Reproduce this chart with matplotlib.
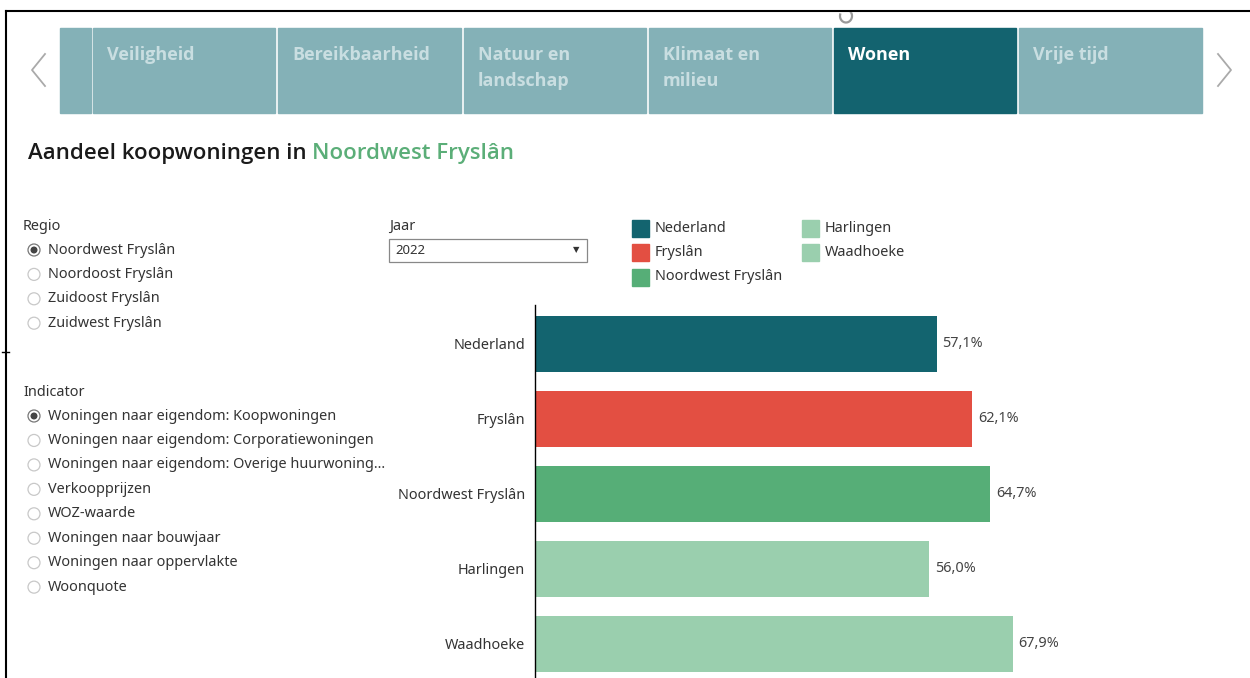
import matplotlib.pyplot as plt
from matplotlib.patches import Rectangle, Circle, Arc

plt.rcParams['font.family'] = ['Noto Sans', 'DejaVu Sans']

# Data
categories = ['Nederland', 'Fryslân', 'Noordwest Fryslân', 'Harlingen', 'Waadhoeke']
values = [57.1, 62.1, 64.7, 56.0, 67.9]
bar_colors = ['#13646F', '#E34F42', '#56AE77', '#9ACFAE', '#9ACFAE']

tabs = ['', 'Veiligheid', 'Bereikbaarheid', 'Natuur en\nlandschap',
        'Klimaat en\nmilieu', 'Wonen', 'Vrije tijd']
active_tab = 'Wonen'
regios = ['Noordwest Fryslân', 'Noordoost Fryslân', 'Zuidoost Fryslân', 'Zuidwest Fryslân']
indicators = ['Woningen naar eigendom: Koopwoningen',
              'Woningen naar eigendom: Corporatiewoningen',
              'Woningen naar eigendom: Overige huurwoning...',
              'Verkoopprijzen', 'WOZ-waarde', 'Woningen naar bouwjaar',
              'Woningen naar oppervlakte', 'Woonquote']
jaar = '2022'

W, H = 1250, 678
fig = plt.figure(figsize=(W / 100, H / 100), dpi=100)

# background overlay in pixel coordinates
bg = fig.add_axes([0, 0, 1, 1])
bg.set_xlim(0, W)
bg.set_ylim(H, 0)
bg.axis('off')

# frame (with a clipped refresh icon peeking below the top line)
bg.add_patch(Arc((846, 16), 12, 13, theta1=-70, theta2=205, color='#999999', lw=1.6))
bg.add_patch(Rectangle((800, 0), 100, 11, color='white', zorder=3))
bg.plot([6, W], [11, 11], color='black', lw=1.5, zorder=4)
bg.plot([6, 6], [11, H], color='black', lw=1.5, zorder=4)
bg.plot([2, 9], [352, 352], color='black', lw=1)

# tabs
light, dark = '#84B1B7', '#13636F'
tab_x = [60, 93, 278, 464, 649, 834, 1019]
tab_w = [31, 182, 183, 182, 182, 182, 183]
for x, w, t in zip(tab_x, tab_w, tabs):
    on = t == active_tab
    bg.add_patch(Rectangle((x, 28), w, 85, color=dark if on else light))
    if t:
        bg.text(x + 14, 46, t, fontsize=13, fontweight='bold', va='top', ha='left',
                family=['Open Sans', 'DejaVu Sans'],
                color='white' if on else '#C9DEE1', linespacing=1.6)
bg.plot([45, 32, 45], [54, 70, 86], color='#AAAAAA', lw=1.3)
bg.plot([1218, 1231, 1218], [54, 70, 86], color='#AAAAAA', lw=1.3)

# title
t1 = bg.text(28, 153, 'Aandeel koopwoningen in ', fontsize=16, fontweight='semibold',
             family=['Open Sans', 'DejaVu Sans'], color='#1a1a1a', va='center')
bg.annotate('Noordwest Fryslân', xy=(1, 0.5), xycoords=t1, fontsize=16,
            fontweight='semibold', family=['Open Sans', 'DejaVu Sans'],
            color='#5BAE78', va='center', ha='left')

txt = '#333333'


def radio(y, label, selected):
    bg.add_patch(Circle((34, y), 6, fill=False, ec='#777777' if selected else '#C8C8C8', lw=0.9))
    if selected:
        bg.add_patch(Circle((34, y), 2.8, color='#444444'))
    bg.text(48, y, label, fontsize=10.4, color=txt, va='center', ha='left')


bg.text(23, 226, 'Regio', fontsize=10.4, color=txt, va='center')
for i, r in enumerate(regios):
    radio(250 + i * 24.4, r, i == 0)

bg.text(23, 392, 'Indicator', fontsize=10.4, color=txt, va='center')
for i, r in enumerate(indicators):
    radio(416 + i * 24.45, r, i == 0)

# Jaar dropdown
bg.text(389, 226, 'Jaar', fontsize=10.4, color=txt, va='center')
bg.add_patch(Rectangle((389, 239), 198, 23, fill=False, ec='#888888', lw=0.9))
bg.text(395, 251, jaar, fontsize=9.5, color=txt, va='center')
bg.text(576, 250, '▼', fontsize=6, color='#333333', va='center', ha='center')

# legend
leg_pos = [(632, 228), (632, 252), (632, 277), (802, 228), (802, 252)]
for (x, y), c, lab in zip(leg_pos, bar_colors, categories):
    bg.add_patch(Rectangle((x, y - 8.5), 17, 17, color=c))
    bg.text(x + 23, y, lab, fontsize=10.4, color=txt, va='center')

# bar chart
ax = fig.add_axes([535 / W, 0, (W - 535) / W, (H - 305) / H])
ax.patch.set_alpha(0)
y = list(range(len(categories)))
ax.barh(y, values, height=0.745, color=bar_colors)
ax.set_xlim(0, (W - 535) / 7.04)
ax.set_ylim(4.453, -0.513)
for s in ['top', 'right', 'bottom']:
    ax.spines[s].set_visible(False)
ax.spines['left'].set_color('black')
ax.spines['left'].set_linewidth(1)
ax.set_xticks([])
ax.set_yticks(y)
ax.set_yticklabels(categories, fontsize=10.4, color=txt)
ax.tick_params(axis='y', length=0, pad=7)
for i, v in enumerate(values):
    ax.text(v + 0.8, i, f'{v:.1f}%'.replace('.', ','), fontsize=10.4, color='#444444', va='center')

fig.savefig('out.png', dpi=100)
